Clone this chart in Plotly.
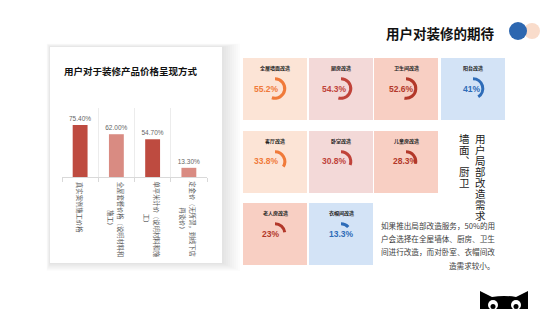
import plotly.graph_objects as go

# ---------------- data ----------------
price_categories = [
    "真实案例施工价格",
    "全屋套餐价格（说明材料和<br>施工）",
    "单平米计价（说明材料和施<br>工）",
    "定金价（无所谓，到线下店<br>再谈价）",
]
price_values = [75.4, 62.0, 54.7, 13.3]

room_names = ["全屋墙面改造", "厨房改造", "卫生间改造", "阳台改造",
              "客厅改造", "卧室改造", "儿童房改造",
              "老人房改造", "衣帽间改造"]
room_values = [55.2, 54.3, 52.6, 41, 33.8, 30.8, 28.3, 23, 13.3]

main_title = "用户对装修的期待"
chart_title = "用户对于装修产品价格呈现方式"
side_col1 = "用户局部改造需求"
side_col2 = "墙面︑厨卫"
para_lines = ["如果推出局部改造服务，50%的用",
              "户会选择在全屋墙体、厨房、卫生",
              "间进行改造，而对卧室、衣帽间改",
              "造需求较小。"]

# ---------------- styles ----------------
W, H = 550, 309
FONT = "Noto Sans CJK SC"
bar_colors = ["#BE4B40", "#D98B82", "#BE4B40", "#D98B82"]
themes = {
    "orange": ("#FCE4D6", "#F07A3A"),
    "red": ("#F3D9D8", "#C0433A"),
    "salmon": ("#F8CFC3", "#B3382A"),
    "blue": ("#D3E3F6", "#2E6CB8"),
}
card_theme = ["orange", "red", "salmon", "blue", "orange", "red", "salmon", "salmon", "blue"]
card_pos = [(0, 0), (0, 1), (0, 2), (0, 3), (1, 0), (1, 1), (1, 2), (2, 0), (2, 1)]
text_dx = [-8.5, -6.5, -4.5, -2, -8.5, -6.3, -0.7, -5, 0]
col_left = [243, 309, 374, 441]
row_top = [58, 131, 203]
CW, CH = 64, 62
R = 11.3
TICK_FS = 6.3


def px(x):
    return x / W


def py(y):
    return 1 - y / H


fig = go.Figure()
shapes = []
annos = []

# left card shadow + card
for i in range(1, 10):
    shapes.append(dict(type="rect", xref="paper", yref="paper", layer="below",
                       x0=px(50 - 0.4 * i), x1=px(222 + 2.0 * i),
                       y0=py(263 + 0.9 * i), y1=py(47 - 0.4 * i),
                       line=dict(width=0), fillcolor="rgba(0,0,0,0.011)"))
shapes.append(dict(type="rect", xref="paper", yref="paper", layer="below",
                   x0=px(50), x1=px(222), y0=py(263), y1=py(47),
                   line=dict(width=0), fillcolor="white"))

# bar chart
fig.add_trace(go.Bar(
    x=list(range(len(price_values))), y=price_values,
    marker=dict(color=bar_colors, line=dict(width=0)),
    width=0.41,
    texttemplate="%{y:.2f}%", textposition="outside", constraintext="none",
    textfont=dict(size=6.5, color="#666666", family="Liberation Sans"),
    cliponaxis=False, hoverinfo="skip", showlegend=False,
))
fig.update_layout(
    xaxis=dict(domain=[px(62), px(207)], type="category", tickson="boundaries",
               showgrid=True, gridcolor="#ECECEC", gridwidth=1, ticks="outside",
               ticklen=4, tickcolor="#D9D9D9", showline=True, linecolor="#D9D9D9",
               showticklabels=False, fixedrange=True),
    yaxis=dict(domain=[py(177), py(108)], range=[0, 100], visible=False,
               showgrid=False, fixedrange=True),
)

# category labels, vertical
line_dx = [3.6, -6.6]
for i, cat in enumerate(price_categories):
    lines = cat.split("<br>")
    yc = 182 + len(lines[0]) * TICK_FS / 2
    for j, ln in enumerate(lines):
        dx = 0 if len(lines) == 1 else line_dx[j]
        annos.append(dict(xref="x", yref="paper", x=i, y=py(yc), xshift=dx,
                          xanchor="center", yanchor="middle", textangle=90,
                          showarrow=False, text=ln,
                          font=dict(size=TICK_FS, color="#595959", family=FONT)))

annos.append(dict(xref="paper", yref="paper", x=px(62), y=py(70.5), xanchor="left",
                  yanchor="middle", showarrow=False, text=chart_title,
                  font=dict(size=9.5, color="#111111", family=FONT, weight="bold")))

# main title + circles
annos.append(dict(xref="paper", yref="paper", x=px(497), y=py(33), xanchor="right",
                  yanchor="middle", showarrow=False, text=main_title,
                  font=dict(size=13.5, color="#111111", family=FONT, weight="bold")))
shapes.append(dict(type="circle", xref="paper", yref="paper",
                   x0=px(524), x1=px(540), y0=py(39), y1=py(23),
                   line=dict(width=0), fillcolor="#F9DCCB"))
shapes.append(dict(type="circle", xref="paper", yref="paper",
                   x0=px(509), x1=px(527), y0=py(40), y1=py(22),
                   line=dict(width=0), fillcolor="#2D67B0"))

# cards
for i, (name, val) in enumerate(zip(room_names, room_values)):
    r, c = card_pos[i]
    bg, fg = themes[card_theme[i]]
    x0 = col_left[c]
    y0 = row_top[r]
    cx = x0 + CW / 2
    cy = y0 + 30.5
    shapes.append(dict(type="rect", xref="paper", yref="paper", layer="below",
                       x0=px(x0), x1=px(x0 + CW), y0=py(y0 + CH), y1=py(y0),
                       line=dict(width=0), fillcolor=bg))
    annos.append(dict(xref="paper", yref="paper", x=px(cx), y=py(y0 + 10.5),
                      xanchor="center", yanchor="middle", showarrow=False, text=name,
                      font=dict(size=5, color="#222222", family=FONT, weight="bold")))
    fig.add_trace(go.Pie(
        values=[val, 100 - val], sort=False, direction="clockwise", rotation=0,
        hole=0.73, textinfo="none", hoverinfo="skip", showlegend=False,
        marker=dict(colors=[fg, "rgba(0,0,0,0)"], line=dict(width=0)),
        domain=dict(x=[px(cx - R), px(cx + R)], y=[py(cy + R), py(cy - R)]),
    ))
    annos.append(dict(xref="paper", yref="paper", x=px(cx + text_dx[i]), y=py(cy),
                      xanchor="center", yanchor="middle", showarrow=False,
                      text=f"{val:g}%",
                      font=dict(size=8.5, color=fg, family="Liberation Sans", weight="bold")))

# vertical side text: line pitch from base font (x1.3), glyphs slightly larger


def vertical(s):
    return "<br>".join(f"<span style='font-size:10.5px'>{ch}</span>" for ch in s)


annos.append(dict(xref="paper", yref="paper", x=px(480), y=py(129), xanchor="center",
                  yanchor="top", showarrow=False, text=vertical(side_col1),
                  font=dict(size=8.5, color="#1a1a1a", family=FONT)))
annos.append(dict(xref="paper", yref="paper", x=px(464), y=py(129), xanchor="center",
                  yanchor="top", showarrow=False, text=vertical(side_col2),
                  font=dict(size=8.5, color="#1a1a1a", family=FONT)))

# paragraph
for k, line in enumerate(para_lines):
    annos.append(dict(xref="paper", yref="paper", x=px(497), y=py(225 + k * 13.4),
                      xanchor="right", yanchor="middle", showarrow=False, text=line,
                      font=dict(size=7.6, color="#404040", family=FONT)))

# cat logo (decoration)
shapes.append(dict(type="path", xref="paper", yref="paper", layer="above",
                   path=f"M {px(480)} {py(310)} L {px(480)} {py(291)} L {px(492)} {py(297)} "
                        f"Q {px(504)} {py(295)} {px(516)} {py(297)} L {px(528)} {py(291)} "
                        f"L {px(528)} {py(310)} Z",
                   line=dict(width=0), fillcolor="#000000"))
for ex in (493, 516):
    shapes.append(dict(type="circle", xref="paper", yref="paper", layer="above",
                       x0=px(ex - 5), x1=px(ex + 5), y0=py(310), y1=py(300),
                       line=dict(width=0), fillcolor="white"))
    shapes.append(dict(type="circle", xref="paper", yref="paper", layer="above",
                       x0=px(ex - 2.5), x1=px(ex + 2.5), y0=py(309), y1=py(304),
                       line=dict(width=0), fillcolor="black"))

fig.update_layout(
    width=W, height=H, margin=dict(l=0, r=0, t=0, b=0),
    paper_bgcolor="white", plot_bgcolor="rgba(0,0,0,0)",
    shapes=shapes, annotations=annos, bargap=0.5,
    font=dict(family=FONT),
)
fig.write_html("out.html", config=dict(displayModeBar=False))
